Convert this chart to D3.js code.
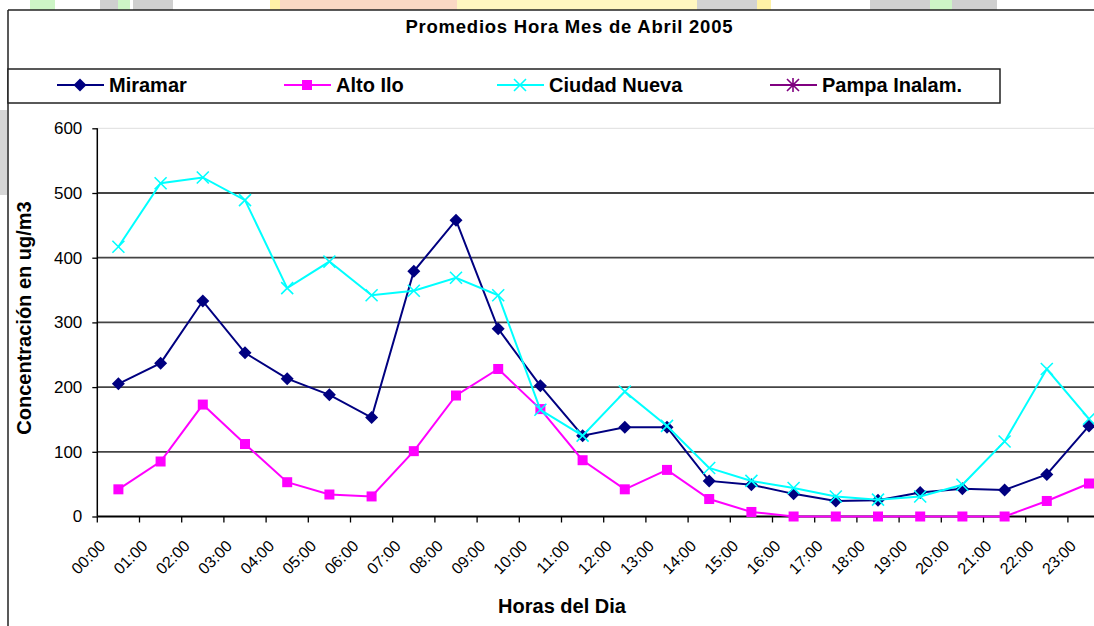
<!DOCTYPE html>
<html><head><meta charset="utf-8">
<script src="https://cdn.jsdelivr.net/npm/d3@7"></script>
<style>html,body{margin:0;padding:0;background:#fff;overflow:hidden}svg{display:block}</style>
</head><body>
<svg id="chart" width="1094" height="626"></svg>
<script>
const hours = ["00:00","01:00","02:00","03:00","04:00","05:00","06:00","07:00","08:00","09:00","10:00","11:00",
               "12:00","13:00","14:00","15:00","16:00","17:00","18:00","19:00","20:00","21:00","22:00","23:00"];
const miramar     = [205,237,333,253,213,188,153,379,458,290,202,125,138,138,55,49,35,24,25,37,43,41,65,140];
const altoIlo     = [42,85,173,112,53,34,31,101,187,228,166,87,42,72,27,7,0,0,0,0,0,0,24,51];
const ciudadNueva = [417,515,524,489,353,394,342,349,369,342,165,125,193,140,75,55,44,31,26,31,49,116,228,151];
const pampaInalam = []; // no values plotted for this station
const seriesNames = ["Miramar","Alto Ilo","Ciudad Nueva","Pampa Inalam."];
const yTicks = [0,100,200,300,400,500,600];
const titleText = "Promedios Hora Mes de Abril 2005";
const yTitle = "Concentración en ug/m3";
const xTitle = "Horas del Dia";

const FONT = "'Liberation Sans', Arial, sans-serif";
const svg = d3.select("#chart");

// faint background decoration strip (page watermark)
const deco = [[30,0,25,10,"#cdf5c6"],[100,0,18,10,"#cfcfcf"],[118,0,12,10,"#cdf5c6"],[133,0,40,10,"#cfcfcf"],
  [270,0,10,10,"#fff2a6"],[280,0,177,10,"#fbd8c4"],[457,0,240,10,"#fff6c0"],[697,0,60,10,"#d2d2d2"],
  [757,0,14,10,"#fff2a6"],[870,0,60,10,"#cfcfcf"],[930,0,22,10,"#cdf5c6"],[952,0,45,10,"#cfcfcf"],[0,110,7,85,"#d6d6d6"]];
svg.selectAll("rect.deco").data(deco).join("rect").attr("class","deco")
  .attr("x",d=>d[0]).attr("y",d=>d[1]).attr("width",d=>d[2]).attr("height",d=>d[3]).attr("fill",d=>d[4]);

// outer frame
svg.append("line").attr("x1",8).attr("x2",1094).attr("y1",10).attr("y2",10).attr("stroke","#222").attr("stroke-width",1.5);
svg.append("line").attr("x1",8).attr("x2",8).attr("y1",10).attr("y2",626).attr("stroke","#222").attr("stroke-width",1.5);

// title
svg.append("text").attr("x",569).attr("y",33).attr("text-anchor","middle")
  .attr("font-family",FONT).attr("font-weight","bold").attr("font-size",18.5)
  .attr("textLength",327).attr("lengthAdjust","spacing").text(titleText);

// scales
const x = d3.scaleBand().domain(hours).range([97.3, 97.3 + 24*42.2]);
const y = d3.scaleLinear().domain([0,600]).range([516.5,128.3]);

// gridlines
svg.selectAll("line.grid").data(yTicks.filter(t=>t>0)).join("line").attr("class","grid")
  .attr("x1",97).attr("x2",1094).attr("y1",d=>y(d)).attr("y2",d=>y(d))
  .attr("stroke",d=>d===600?"#dedede":"#444").attr("stroke-width",d=>d===600?1:1.8);

// y axis
const yAxis = svg.append("g").attr("transform","translate(97.3,0)")
  .call(d3.axisLeft(y).tickValues(yTicks).tickSize(5).tickPadding(10));
yAxis.select(".domain").attr("stroke","#000").attr("stroke-width",1.5).attr("d","M0,128.3V516.5");
yAxis.selectAll(".tick line").attr("stroke","#000").attr("stroke-width",1.3);
yAxis.selectAll(".tick text").attr("font-family",FONT).attr("font-size",17).attr("fill","#000");

// x axis
const xAxis = svg.append("g").attr("transform","translate(0,516.5)");
xAxis.append("line").attr("x1",97.3).attr("x2",1094).attr("stroke","#000").attr("stroke-width",2);
xAxis.selectAll("line.xt").data(hours).join("line").attr("class","xt")
  .attr("x1",d=>x(d)).attr("x2",d=>x(d)).attr("y1",0).attr("y2",6).attr("stroke","#000").attr("stroke-width",1.3);
svg.selectAll("text.xl").data(hours).join("text").attr("class","xl")
  .attr("font-family",FONT).attr("font-size",16).attr("text-anchor","end")
  .attr("transform",d=>`translate(${x(d)+x.bandwidth()/2-12},547) rotate(-45)`).text(d=>d);

// axis titles
svg.append("text").attr("transform","translate(31,318) rotate(-90)").attr("text-anchor","middle")
  .attr("font-family",FONT).attr("font-weight","bold").attr("font-size",20).text(yTitle);
svg.append("text").attr("x",562).attr("y",613).attr("text-anchor","middle")
  .attr("font-family",FONT).attr("font-weight","bold").attr("font-size",20).text(xTitle);

// series
const colors = ["#000080","#ff00ff","#00ffff","#800080"];
const allSeries = [miramar, altoIlo, ciudadNueva, pampaInalam];
const cx = i => x(hours[i]) + x.bandwidth()/2;
function marker(g, type, color){
  if(type===0){ g.append("path").attr("d","M0,-6.5L6.5,0L0,6.5L-6.5,0Z").attr("fill",color); }
  else if(type===1){ g.append("rect").attr("x",-5).attr("y",-5).attr("width",10).attr("height",10).attr("fill",color); }
  else if(type===2){ g.append("path").attr("d","M-6,-6L6,6M-6,6L6,-6").attr("stroke",color).attr("stroke-width",1.6).attr("fill","none"); }
  else { g.append("path").attr("d","M-6,-6L6,6M-6,6L6,-6M0,-7V7").attr("stroke",color).attr("stroke-width",1.6).attr("fill","none"); }
}
const line = d3.line().x((d,i)=>cx(i)).y(d=>y(d));
allSeries.forEach((vals,s)=>{
  if(!vals.length) return;
  svg.append("path").datum(vals).attr("d",line).attr("fill","none").attr("stroke",colors[s]).attr("stroke-width",2);
  vals.forEach((v,i)=>{ marker(svg.append("g").attr("transform",`translate(${cx(i)},${y(v)})`), s, colors[s]); });
});

// legend
const lg = svg.append("g");
lg.append("rect").attr("x",8).attr("y",69).attr("width",992).attr("height",34).attr("fill","#fff")
  .attr("stroke","#222").attr("stroke-width",1.5);
const legX = [57,284,497,770];
seriesNames.forEach((n,s)=>{
  const x0 = legX[s];
  lg.append("line").attr("x1",x0).attr("x2",x0+47).attr("y1",85).attr("y2",85).attr("stroke",colors[s]).attr("stroke-width",2);
  marker(lg.append("g").attr("transform",`translate(${x0+23},85)`), s, colors[s]);
  lg.append("text").attr("x",x0+52).attr("y",92).attr("font-family",FONT).attr("font-weight","bold")
    .attr("font-size",20).text(n);
});
</script>
</body></html>
